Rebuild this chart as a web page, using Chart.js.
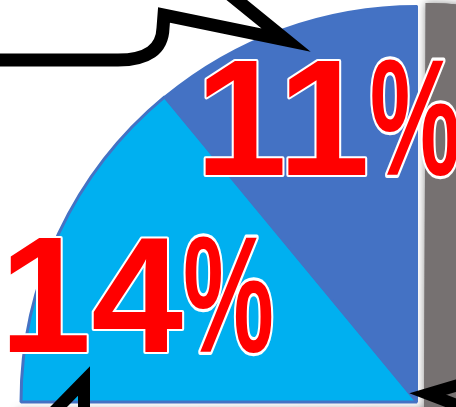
<!DOCTYPE html>
<html>
<head>
<meta charset="utf-8">
<script src="https://cdn.jsdelivr.net/npm/chart.js@4/dist/chart.umd.min.js"></script>
<style>
  html, body { margin: 0; padding: 0; background: #fff; overflow: hidden; width: 456px; height: 407px; }
  #chart { position: absolute; left: 0; top: 0; }
</style>
</head>
<body>
<canvas id="chart" width="834" height="804"></canvas>
<script>
// data, clockwise from 9 o'clock
const categorias = ["Categoria B", "Categoria A", "Outros"];
const valores = [14, 11, 75];
const cores = ["#00B0F0", "#4472C4", "#767171"];
const bordas = ["#4472C4", "#4472C4", "#767171"];
const mostrarRotulo = [true, true, false];

const total = valores.reduce((a, b) => a + b, 0);

// soft shadow round the grey slice
const sombra = {
  id: "sombra",
  beforeDatasetsDraw(chart) {
    const arc = chart.getDatasetMeta(0).data[2];
    if (!arc) return;
    const ctx = chart.ctx;
    ctx.save();
    ctx.shadowColor = "rgba(90,90,90,0.7)";
    ctx.shadowBlur = 9;
    arc.draw(ctx);
    ctx.restore();
  }
};

// big red percentages with white outline
const rotulos = {
  id: "rotulos",
  afterDatasetsDraw(chart) {
    const ctx = chart.ctx;
    const ajuste = [[-8, 18], [13, -4]];
    chart.getDatasetMeta(0).data.forEach((arc, i) => {
      if (!mostrarRotulo[i]) return;
      const p = arc.getProps(["x", "y", "startAngle", "endAngle", "outerRadius"]);
      const meio = (p.startAngle + p.endAngle) / 2;
      const cx = p.x + Math.cos(meio) * p.outerRadius * 0.76 + ajuste[i][0];
      const cy = p.y + Math.sin(meio) * p.outerRadius * 0.76 + ajuste[i][1];
      const num = String(Math.round(valores[i] / total * 100));
      ctx.save();
      ctx.font = 'bold 165px "Liberation Sans", Arial, sans-serif';
      ctx.textBaseline = "alphabetic";
      ctx.textAlign = "left";
      const escala = 0.62;
      const wNum = ctx.measureText(num).width;
      const wPct = ctx.measureText("%").width * escala;
      const x0 = cx - (wNum + wPct) / 2;
      const base = cy + 60;
      ctx.lineJoin = "round";
      ctx.lineWidth = 4;
      ctx.strokeStyle = "#ffffff";
      ctx.fillStyle = "#FF0000";
      ctx.strokeText(num, x0, base);
      ctx.fillText(num, x0, base);
      ctx.translate(x0 + wNum, base);
      ctx.scale(escala, 1);
      ctx.lineWidth = 4 / escala;
      ctx.strokeText("%", 0, 0);
      ctx.fillText("%", 0, 0);
      ctx.restore();
    });
  }
};

// callout outlines from the original slide
const chamadas = {
  id: "chamadas",
  afterDraw(chart) {
    const ctx = chart.ctx;
    ctx.save();
    ctx.strokeStyle = "#000";
    ctx.lineWidth = 13;
    ctx.lineJoin = "miter";
    ctx.miterLimit = 20;

    ctx.beginPath();
    ctx.moveTo(-20, 60);
    ctx.lineTo(118, 60);
    ctx.quadraticCurveTo(162, 60, 163, 28);
    ctx.lineTo(164, 15);
    ctx.lineTo(286, 40);
    ctx.lineTo(222, -12);
    ctx.stroke();

    ctx.lineWidth = 12;
    ctx.beginPath();
    ctx.moveTo(36, 430);
    ctx.lineTo(84, 381);
    ctx.lineTo(84, 430);
    ctx.stroke();

    ctx.beginPath();
    ctx.moveTo(475, 380);
    ctx.lineTo(428, 394);
    ctx.lineTo(475, 412);
    ctx.stroke();
    ctx.restore();
  }
};

new Chart(document.getElementById("chart"), {
  type: "pie",
  data: {
    labels: categorias,
    datasets: [{
      data: valores,
      backgroundColor: cores,
      borderColor: bordas,
      borderWidth: [3, 2, 0],
      offset: [0, 0, 40]
    }]
  },
  options: {
    responsive: false,
    animation: false,
    devicePixelRatio: 1,
    rotation: 270,
    radius: 396,
    layout: { padding: 0 },
    plugins: {
      legend: { display: false },
      tooltip: { enabled: false }
    }
  },
  plugins: [sombra, rotulos, chamadas]
});
</script>
</body>
</html>
